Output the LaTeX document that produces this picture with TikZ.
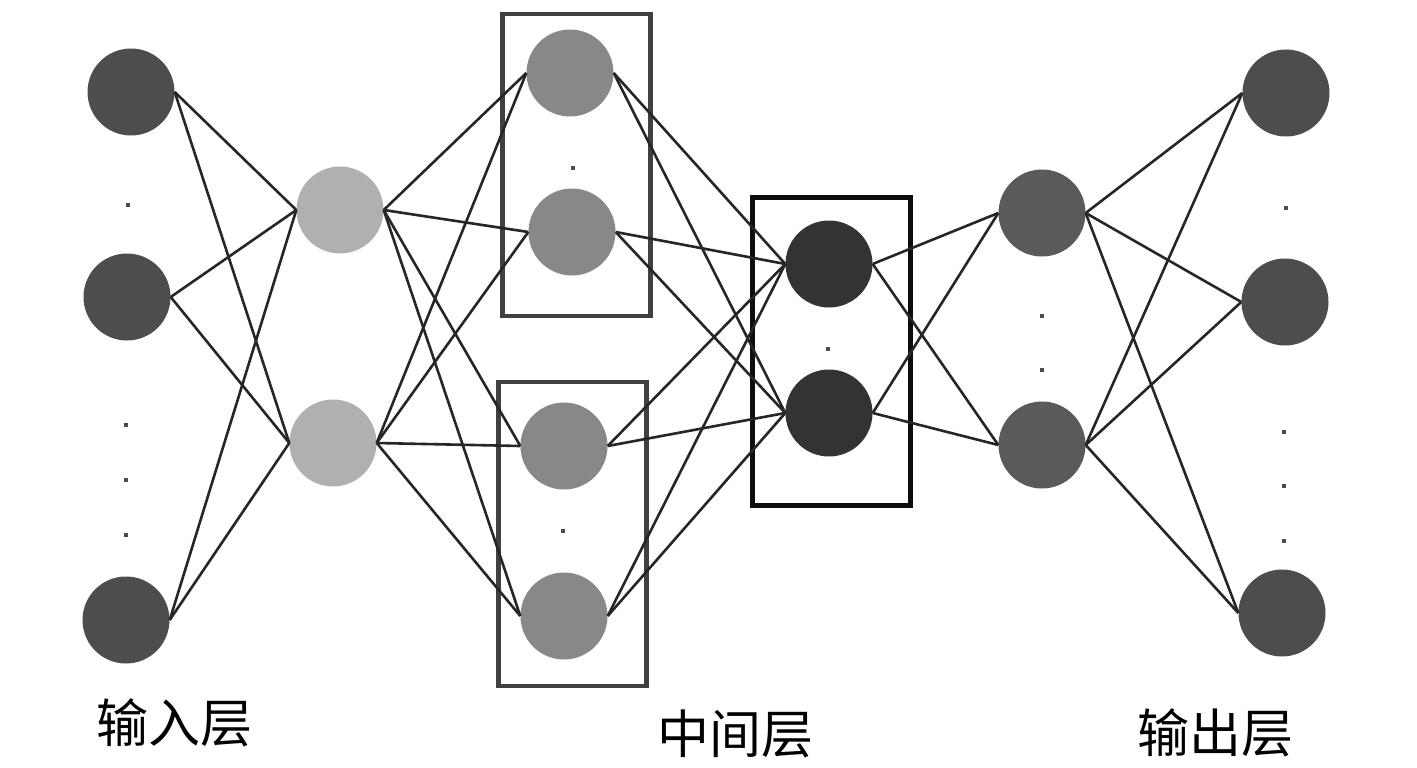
\documentclass[tikz,border=0pt]{standalone}
\usepackage{fontspec}
\newfontfamily\cjk{Noto Sans CJK SC}
\begin{document}
\begin{tikzpicture}[x=1pt,y=-1pt,
  neuron/.style={circle,minimum size=87pt,inner sep=0pt,draw=none},
  inl/.style={neuron,fill=inc},
  hl/.style={neuron,fill=hc},
  al/.style={neuron,fill=ac},
  ml/.style={neuron,fill=mc},
  ol/.style={neuron,fill=oc},
  edge/.style={line width=2.6pt,draw=black!85},
  grp/.style={line width=4.5pt,draw=black!75},
  grpm/.style={line width=5pt,draw=black!95},
  dotm/.style={fill=black!70,minimum size=3.5pt,inner sep=0pt,draw=none,rectangle},
  lbl/.style={font=\cjk\fontsize{52}{52}\selectfont,inner sep=0pt}]
\definecolor{inc}{HTML}{4D4D4D}
\definecolor{hc}{HTML}{B0B0B0}
\definecolor{ac}{HTML}{888888}
\definecolor{mc}{HTML}{333333}
\definecolor{oc}{HTML}{5A5A5A}
\useasboundingbox (0,0) rectangle (1417,768);
\fill[white] (0,0) rectangle (1417,768);
% boxes
\draw[grp] (502.5,14) rectangle (650.5,316);
\draw[grp] (498.5,382) rectangle (646.5,686);
\draw[grpm] (752.5,197.5) rectangle (910.5,505.5);
% nodes
\node[inl] (i1) at (131,92) {};
\node[inl] (i2) at (127,297) {};
\node[inl] (i3) at (126,620) {};
\node[hl] (h1) at (340,210) {};
\node[hl] (h2) at (333,443) {};
\node[al] (a1) at (570,73) {};
\node[al] (a2) at (572,232) {};
\node[al] (a3) at (564,446) {};
\node[al] (a4) at (564,616) {};
\node[ml] (m1) at (829,264) {};
\node[ml] (m2) at (829,413) {};
\node[ol] (o1) at (1042,213) {};
\node[ol] (o2) at (1042,445) {};
\node[inl] (p1) at (1286,93) {};
\node[inl] (p2) at (1285,302) {};
\node[inl] (p3) at (1282,613) {};
% dots
\node[dotm] (d1) at (128,205) {};
\node[dotm] (d2) at (126,425) {};
\node[dotm] (d3) at (126,480) {};
\node[dotm] (d4) at (126,535) {};
\node[dotm] (d5) at (573,168) {};
\node[dotm] (d6) at (563,531) {};
\node[dotm] (d7) at (828,349) {};
\node[dotm] (d8) at (1042,316) {};
\node[dotm] (d9) at (1042,370) {};
\node[dotm] (d10) at (1286,208) {};
\node[dotm] (d11) at (1284,432) {};
\node[dotm] (d12) at (1284,486) {};
\node[dotm] (d13) at (1284,541) {};
% edges
\foreach \a in {i1,i2,i3} \foreach \b in {h1,h2} \draw[edge] (\a.east) -- (\b.west);
\foreach \a in {h1,h2} \foreach \b in {a1,a2,a3,a4} \draw[edge] (\a.east) -- (\b.west);
\foreach \a in {a1,a2,a3,a4} \foreach \b in {m1,m2} \draw[edge] (\a.east) -- (\b.west);
\foreach \a in {m1,m2} \foreach \b in {o1,o2} \draw[edge] (\a.east) -- (\b.west);
\foreach \a in {o1,o2} \foreach \b in {p1,p2,p3} \draw[edge] (\a.east) -- (\b.west);
% labels
\node[lbl] (l1) at (174,723) {输入层};
\node[lbl] (l2) at (735,734) {中间层};
\node[lbl] (l3) at (1215,733) {输出层};
\end{tikzpicture}
\end{document}
